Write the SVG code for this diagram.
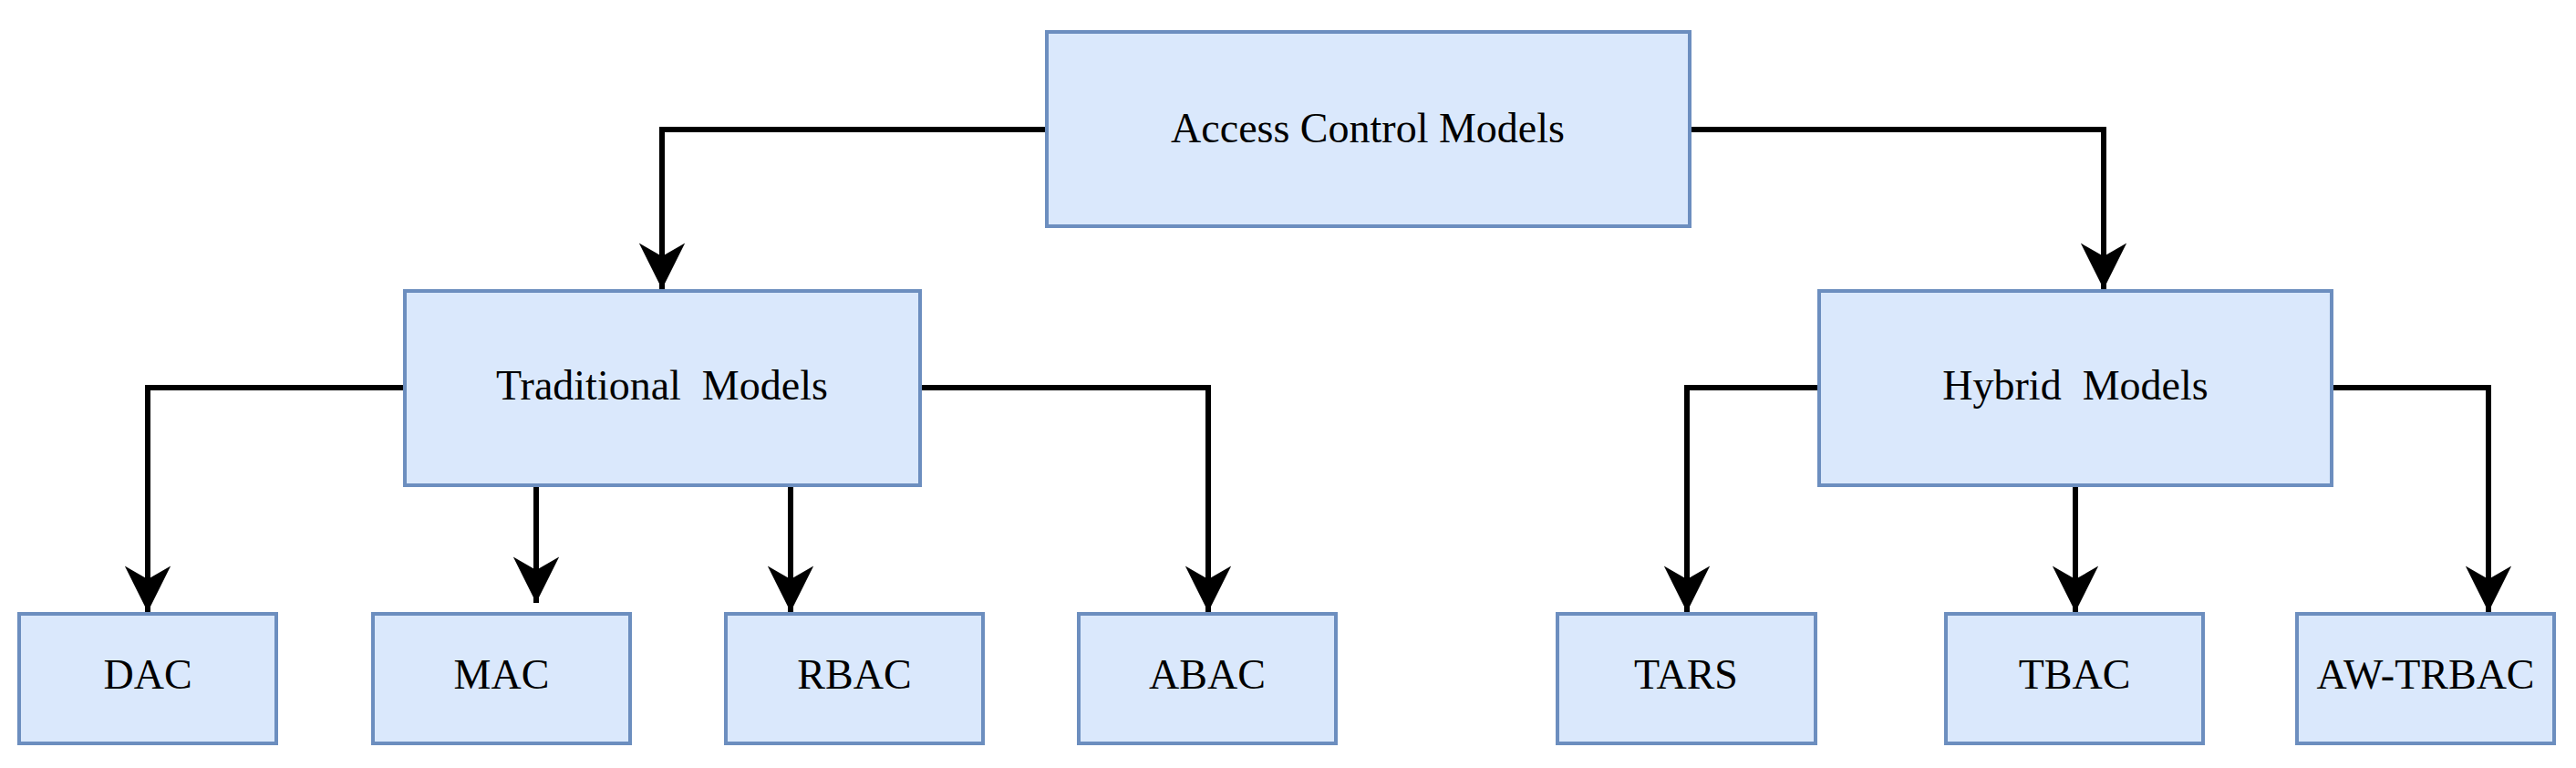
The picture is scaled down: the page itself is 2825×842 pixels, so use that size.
<svg xmlns="http://www.w3.org/2000/svg" width="2825" height="842" viewBox="0 0 2825 842">
<style>
.n rect{fill:#dae8fc;stroke:#6c8ebf;stroke-width:4}
.n text{font-family:"Liberation Serif","Times New Roman",serif;font-size:46px;fill:#000;text-anchor:middle;white-space:pre}
.c path{fill:none;stroke:#000;stroke-width:6;marker-end:url(#a)}
</style>
<defs>
<marker id="a" markerUnits="userSpaceOnUse" markerWidth="60" markerHeight="60" viewBox="-45 -25 50 50" refX="0" refY="0" orient="auto">
<path d="M0,0 L-42,-21 L-30,0 L-42,21 Z" fill="#000"/>
</marker>
</defs>
<rect width="2825" height="842" fill="#fff"/>
<g class="c">
<path d="M1148,142 H726 V317"/>
<path d="M1853,142 H2307 V317"/>
<path d="M444,425 H162 V671"/>
<path d="M1009,425 H1325 V671"/>
<path d="M588,532 V661"/>
<path d="M867,532 V671"/>
<path d="M1995,425 H1850 V671"/>
<path d="M2557,425 H2729 V671"/>
<path d="M2276,532 V671"/>
</g>
<g id="acm" class="n"><rect x="1148" y="35" width="705" height="213"/><text x="1500" y="156">Access Control Models</text></g>
<g id="trad" class="n"><rect x="444" y="319" width="565" height="213"/><text x="726" y="438">Traditional  Models</text></g>
<g id="hyb" class="n"><rect x="1995" y="319" width="562" height="213"/><text x="2276" y="438">Hybrid  Models</text></g>
<g id="dac" class="n"><rect x="21" y="673" width="282" height="142"/><text x="162" y="755">DAC</text></g>
<g id="mac" class="n"><rect x="409" y="673" width="282" height="142"/><text x="550" y="755">MAC</text></g>
<g id="rbac" class="n"><rect x="796" y="673" width="282" height="142"/><text x="937" y="755">RBAC</text></g>
<g id="abac" class="n"><rect x="1183" y="673" width="282" height="142"/><text x="1324" y="755">ABAC</text></g>
<g id="tars" class="n"><rect x="1708" y="673" width="283" height="142"/><text x="1849" y="755">TARS</text></g>
<g id="tbac" class="n"><rect x="2134" y="673" width="282" height="142"/><text x="2275" y="755">TBAC</text></g>
<g id="aw" class="n"><rect x="2519" y="673" width="282" height="142"/><text x="2660" y="755">AW-TRBAC</text></g>
</svg>
